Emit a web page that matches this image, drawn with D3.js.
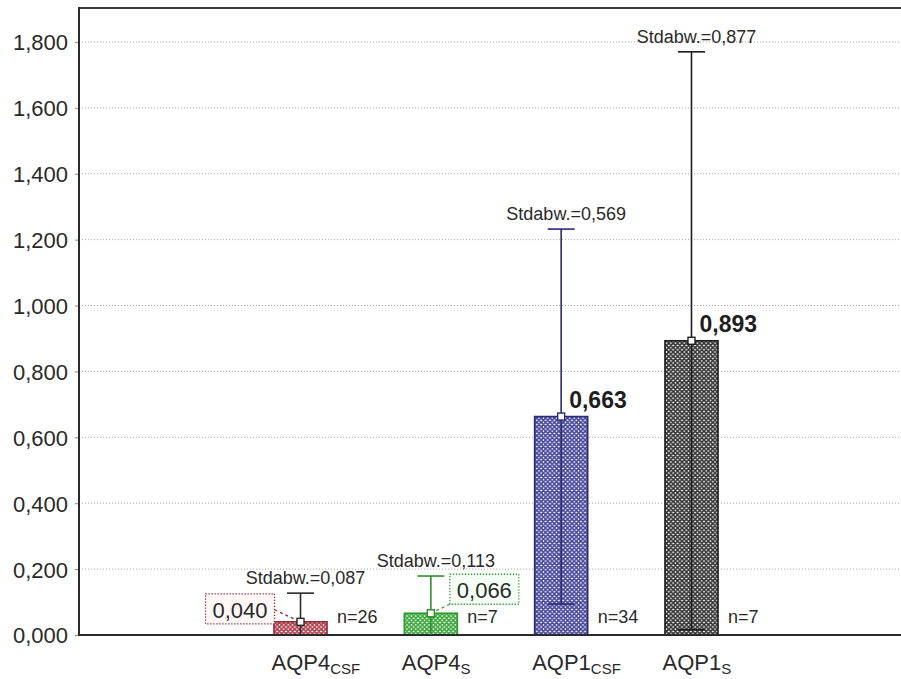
<!DOCTYPE html>
<html><head><meta charset="utf-8">
<script src="https://cdn.jsdelivr.net/npm/d3@7"></script>
<style>
html,body{margin:0;padding:0;background:#fff;}
svg{display:block;font-family:Arial,"Liberation Sans",sans-serif;}
</style></head>
<body>
<svg id="chart" width="901" height="679"></svg>
<script>
const categories = ["AQP4CSF","AQP4S","AQP1CSF","AQP1S"];
const labelMain = ["AQP4","AQP4","AQP1","AQP1"];
const labelSub = ["CSF","S","CSF","S"];
const means = [0.040, 0.066, 0.663, 0.893];
const sds = [0.087, 0.113, 0.569, 0.877];
const ns = [26, 7, 34, 7];
const yTicks = [0,0.2,0.4,0.6,0.8,1.0,1.2,1.4,1.6,1.8];
const strokeColors = ["#8c2a36","#2f9a2f","#2a2a78","#1e1e1e"];
const hatchColors = ["#b0404e","#3aa63a","#46469a","#333333"];
const errColors = ["#2a2a2a","#2f8f2f","#2a2a78","#1e1e1e"];
const labelKind = ["boxLeft","boxRight","plain","plain"];
const boxFill = ["#fff6f6","#f6fff6","none","none"];

const fmt = v => d3.format(".3f")(v).replace(".", ",");

const svg = d3.select("#chart");
const W = 901, H = 679;
const x0 = 79, yBase = 635, yTop = 9;

const x = d3.scaleBand().domain(categories).range([235.35, 756.65])
  .paddingInner(0.593).paddingOuter(0.2965);
const y = d3.scaleLinear().domain([0, 1.9]).range([yBase, yTop]);

// defs patterns
const defs = svg.append("defs");
categories.forEach((c,i)=>{
  const p = defs.append("pattern").attr("id","hatch"+i).attr("patternUnits","userSpaceOnUse")
    .attr("width",4.4).attr("height",4.4);
  p.append("rect").attr("width",4.4).attr("height",4.4).attr("fill","#fff");
  p.append("path").attr("d","M0,0L4.4,4.4M4.4,0L0,4.4M-1,1.2L1.2,-1M3.2,5.4L5.4,3.2M-1,3.2L1.2,5.4M3.2,-1L5.4,1.2")
    .attr("stroke",hatchColors[i]).attr("stroke-width",1.6);
});

// gridlines
svg.append("g").selectAll("line").data(yTicks.filter(t=>t>0)).join("line")
  .attr("x1",x0).attr("x2",W).attr("y1",d=>y(d)).attr("y2",d=>y(d))
  .attr("stroke","#a8a8a8").attr("stroke-width",1).attr("stroke-dasharray","1,2");

// y axis
const yAxis = d3.axisLeft(y).tickValues(yTicks).tickFormat(fmt).tickSize(4).tickPadding(7);
const ga = svg.append("g").attr("transform",`translate(${x0},0)`).call(yAxis);
ga.select(".domain").remove();
ga.selectAll(".tick line").attr("stroke","#888");
ga.selectAll(".tick text").attr("font-size",22).attr("fill","#2a2a2a")
  .attr("font-family",'Arial,"Liberation Sans",sans-serif').attr("dy","0.36em");

// frame
svg.append("line").attr("x1",x0).attr("x2",W).attr("y1",yTop-1).attr("y2",yTop-1).attr("stroke","#3a3a3a").attr("stroke-width",2);
svg.append("line").attr("x1",x0).attr("x2",x0).attr("y1",yTop-2).attr("y2",yBase+1).attr("stroke","#2a2a2a").attr("stroke-width",2);

// bars
const bw = x.bandwidth();
svg.append("g").selectAll("rect").data(categories).join("rect")
  .attr("x",(d)=>x(d)).attr("width",bw)
  .attr("y",(d,i)=>y(means[i])).attr("height",(d,i)=>yBase-y(means[i]))
  .attr("fill",(d,i)=>`url(#hatch${i})`).attr("stroke",(d,i)=>strokeColors[i]).attr("stroke-width",1.6);

// baseline
svg.append("line").attr("x1",x0).attr("x2",W).attr("y1",yBase).attr("y2",yBase).attr("stroke","#2a2a2a").attr("stroke-width",2);

// error bars
const capW = 27;
categories.forEach((c,i)=>{
  const cx = x(c)+bw/2;
  const hi = means[i]+sds[i], lo = means[i]-sds[i];
  const g = svg.append("g").attr("stroke",errColors[i]).attr("stroke-width",1.6);
  g.append("line").attr("x1",cx).attr("x2",cx).attr("y1",y(hi)).attr("y2",y(Math.max(0,lo)));
  g.append("line").attr("x1",cx-capW/2).attr("x2",cx+capW/2).attr("y1",y(hi)).attr("y2",y(hi));
  if (lo > 0) g.append("line").attr("x1",cx-capW/2).attr("x2",cx+capW/2).attr("y1",y(lo)).attr("y2",y(lo));
  // Stdabw label
  svg.append("text").attr("x",cx+5).attr("y",y(hi)-9).attr("text-anchor","middle")
    .attr("font-size",18).attr("fill","#2a2a2a").text("Stdabw.="+fmt(sds[i]));
  // n label
  svg.append("text").attr("x",x(c)+bw+10).attr("y",623).attr("font-size",18).attr("fill","#2a2a2a").text("n="+ns[i]);
  // value label
  const my = y(means[i]);
  if (labelKind[i]==="plain"){
    svg.append("text").attr("x",cx+8).attr("y",my-9).attr("font-size",23).attr("font-weight","bold")
      .attr("fill","#1e1e1e").text(fmt(means[i]));
  } else {
    const bwid = 69, bh = 30;
    let bx, by, lx1, ly1;
    if (labelKind[i]==="boxLeft"){ bx = cx-26-bwid; by = my+2-bh; lx1 = bx+bwid; ly1 = by+16; }
    else { bx = cx+19; by = my-9-bh; lx1 = bx; ly1 = by+bh; }
    svg.append("line").attr("x1",lx1).attr("y1",ly1).attr("x2",cx).attr("y2",my)
      .attr("stroke",strokeColors[i]).attr("stroke-width",1.2).attr("stroke-dasharray","3,3");
    svg.append("rect").attr("x",bx).attr("y",by).attr("width",bwid).attr("height",bh)
      .attr("fill",boxFill[i]).attr("stroke",strokeColors[i]).attr("stroke-width",1.3).attr("stroke-dasharray","1.3,1.7");
    svg.append("text").attr("x",bx+bwid/2).attr("y",by+bh-6).attr("text-anchor","middle")
      .attr("font-size",22).attr("fill","#2a2a2a").text(fmt(means[i]));
  }
  // marker
  svg.append("rect").attr("x",cx-3.5).attr("y",my-3.5).attr("width",7).attr("height",7)
    .attr("fill","#fff").attr("stroke",errColors[i]).attr("stroke-width",1.4);
  // x label
  const t = svg.append("text").attr("x",cx-29).attr("y",670).attr("font-size",22).attr("fill","#2a2a2a");
  t.append("tspan").text(labelMain[i]);
  t.append("tspan").attr("font-size",15).attr("dy",4).text(labelSub[i]);
});
</script>
</body></html>
